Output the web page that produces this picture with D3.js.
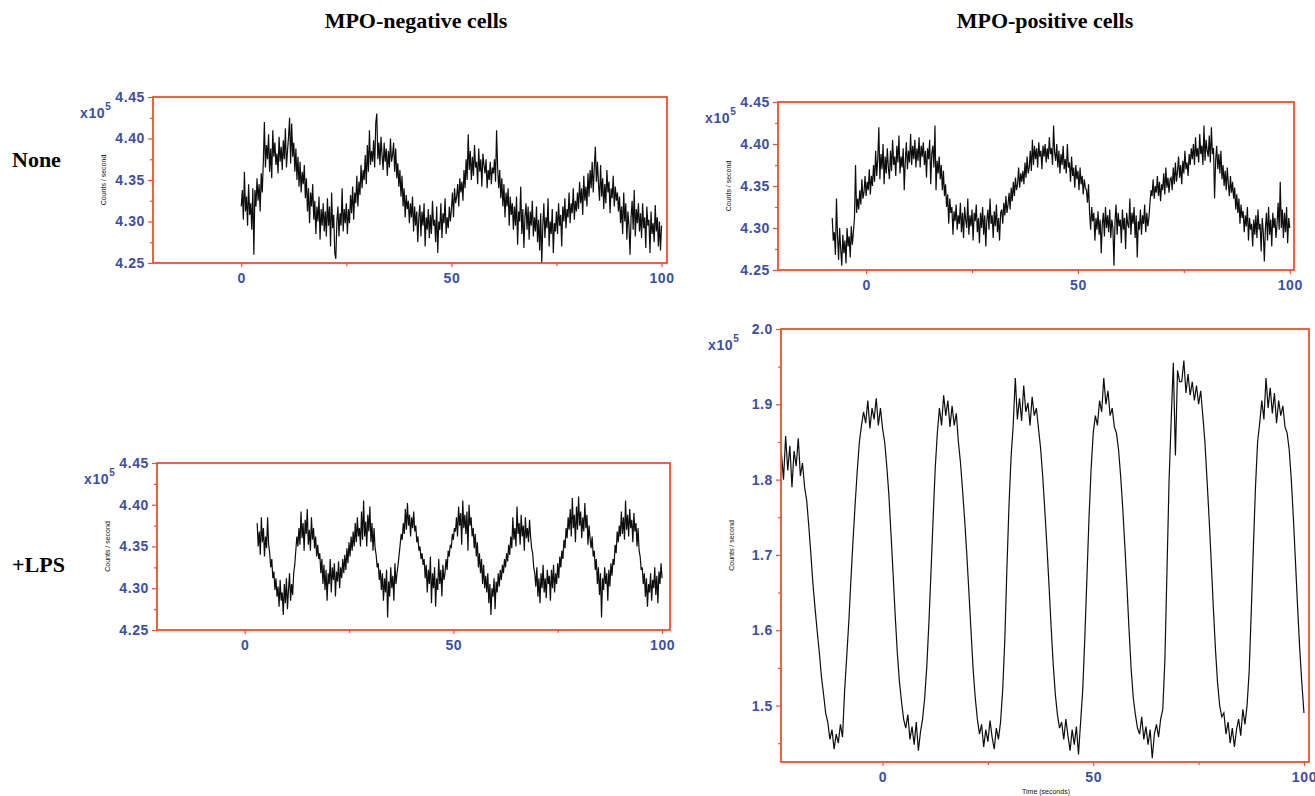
<!DOCTYPE html>
<html lang="en">
<head>
    <meta charset="UTF-8">
    <title>MPO oscillations</title>
    <script src="https://d3js.org/d3.v7.min.js"></script>
    <style>
        body { margin: 0; background: #fff; }
        .tick-label { font: bold 14px Arial, "Liberation Sans", sans-serif; fill: #3c4ea5; letter-spacing: 0.6px; }
        .head { font: bold 22px "Liberation Serif", "Times New Roman", serif; fill: #000; }
        .tiny { font: 7px Arial, "Liberation Sans", sans-serif; fill: #111; }
        .trace { fill: none; stroke: #0d0d0d; stroke-width: 1.2; }
    </style>
</head>
<body>
<svg width="1315" height="796"></svg>
<script>
// MPO-negative, no treatment (x10^5 counts/s), sampled every 0.25 s from t = 0
const negNoneStart = 0, negNoneStep = 0.25;
const negNoneValues = [
4.318,4.338,4.302,4.360,4.312,4.330,4.295,4.345,4.308,4.322,4.290,4.340,4.260,4.338,4.318,4.352,4.325,4.345,4.312,4.358,
4.335,4.372,4.420,4.365,4.392,4.375,4.405,4.360,4.388,4.352,4.410,4.378,4.395,4.368,4.382,4.358,4.402,4.372,4.390,4.362,
4.398,4.375,4.412,4.365,4.385,4.402,4.425,4.370,4.418,4.378,4.395,4.360,4.388,4.350,4.378,4.342,4.372,4.335,4.360,4.345,
4.368,4.328,4.352,4.312,4.340,4.298,4.335,4.318,4.345,4.302,4.325,4.285,4.318,4.300,4.330,4.278,4.315,4.295,4.322,4.288,
4.312,4.282,4.328,4.295,4.318,4.270,4.335,4.292,4.308,4.262,4.255,4.300,4.318,4.282,4.310,4.295,4.340,4.288,4.315,4.298,
4.322,4.285,4.315,4.298,4.332,4.310,4.342,4.302,4.335,4.322,4.355,4.318,4.348,4.332,4.368,4.340,4.362,4.350,4.380,4.345,
4.392,4.360,4.410,4.368,4.385,4.372,4.398,4.365,4.418,4.430,4.375,4.395,4.368,4.402,4.380,4.362,4.395,4.372,4.388,4.355,
4.385,4.365,4.400,4.372,4.380,4.395,4.360,4.388,4.352,4.370,4.342,4.362,4.330,4.355,4.318,4.340,4.305,4.332,4.315,4.325,
4.298,4.322,4.305,4.330,4.288,4.318,4.295,4.312,4.275,4.305,4.320,4.282,4.312,4.295,4.322,4.270,4.305,4.290,4.315,4.280,
4.308,4.285,4.325,4.295,4.302,4.275,4.318,4.262,4.300,4.290,4.322,4.280,4.310,4.298,4.328,4.285,4.305,4.292,4.318,4.300,
4.315,4.335,4.305,4.340,4.322,4.330,4.345,4.318,4.352,4.335,4.348,4.325,4.362,4.340,4.375,4.350,4.405,4.362,4.385,4.350,
4.378,4.355,4.392,4.365,4.372,4.345,4.388,4.360,4.375,4.342,4.382,4.368,4.358,4.375,4.340,4.362,4.350,4.372,4.345,4.365,
4.358,4.375,4.348,4.410,4.365,4.340,4.362,4.328,4.352,4.318,4.345,4.305,4.335,4.318,4.340,4.295,4.330,4.308,4.322,4.290,
4.318,4.295,4.330,4.272,4.312,4.300,4.342,4.285,4.315,4.268,4.305,4.322,4.290,4.318,4.278,4.312,4.295,4.325,4.282,4.305,
4.288,4.318,4.275,4.302,4.265,4.310,4.250,4.295,4.322,4.280,4.305,4.292,4.328,4.270,4.300,4.285,4.315,4.262,4.298,4.288,
4.312,4.285,4.322,4.295,4.308,4.270,4.318,4.300,4.328,4.292,4.315,4.305,4.335,4.298,4.322,4.310,4.340,4.302,4.325,4.312,
4.335,4.315,4.348,4.322,4.340,4.308,4.355,4.325,4.342,4.318,4.358,4.330,4.362,4.340,4.372,4.335,4.365,4.390,4.348,4.372,
4.345,4.325,4.368,4.330,4.352,4.315,4.345,4.322,4.362,4.335,4.348,4.310,4.340,4.328,4.355,4.318,4.342,4.325,4.335,4.312,
4.330,4.298,4.318,4.285,4.335,4.300,4.322,4.278,4.312,4.295,4.260,4.305,4.325,4.290,4.338,4.282,4.315,4.298,4.322,4.288,
4.310,4.280,4.322,4.292,4.305,4.268,4.318,4.295,4.302,4.262,4.312,4.285,4.298,4.275,4.320,4.288,4.305,4.270,4.300,4.265,
4.295
];

// MPO-positive, no treatment, every 0.25 s from t = -8
const posNoneStart = -8, posNoneStep = 0.25;
const posNoneValues = [
4.312,4.285,4.295,4.268,4.335,4.290,4.262,4.300,4.275,4.255,4.292,4.270,4.285,4.258,4.300,4.278,4.290,4.265,4.302,4.280,
4.295,4.312,4.375,4.318,4.335,4.322,4.345,4.328,4.358,4.335,4.342,4.362,4.338,4.355,4.345,4.370,4.340,4.362,4.350,4.375,
4.355,4.392,4.362,4.382,4.420,4.358,4.388,4.370,4.400,4.352,4.385,4.365,4.395,4.372,4.358,4.392,4.368,4.405,4.375,4.385,
4.362,4.398,4.378,4.410,4.365,4.385,4.372,4.395,4.345,4.380,4.402,4.370,4.392,4.378,4.412,4.375,4.398,4.382,4.405,4.372,
4.395,4.380,4.408,4.372,4.398,4.385,4.402,4.375,4.392,4.360,4.395,4.382,4.405,4.352,4.388,4.398,4.372,4.422,4.345,4.380,
4.365,4.385,4.358,4.375,4.345,4.368,4.338,4.352,4.325,4.340,4.305,4.335,4.318,4.325,4.292,4.320,4.308,4.328,4.298,4.315,
4.305,4.330,4.295,4.318,4.288,4.325,4.310,4.300,4.335,4.292,4.315,4.302,4.322,4.285,4.318,4.308,4.328,4.295,4.312,4.282,
4.318,4.300,4.325,4.292,4.315,4.278,4.310,4.322,4.298,4.335,4.305,4.315,4.288,4.320,4.302,4.328,4.295,4.312,4.285,4.318,
4.322,4.305,4.330,4.315,4.338,4.318,4.328,4.342,4.322,4.348,4.332,4.355,4.338,4.360,4.345,4.352,4.372,4.348,4.365,4.355,
4.368,4.352,4.378,4.360,4.385,4.365,4.372,4.392,4.368,4.405,4.375,4.398,4.382,4.395,4.372,4.402,4.385,4.392,4.370,4.398,
4.385,4.400,4.378,4.395,4.382,4.408,4.388,4.395,4.375,4.422,4.390,4.380,4.400,4.372,4.392,4.365,4.388,4.375,4.398,4.370,
4.382,4.365,4.400,4.372,4.378,4.355,4.385,4.362,4.372,4.348,4.375,4.358,4.368,4.345,4.372,4.352,4.362,4.340,4.358,4.348,
4.345,4.330,4.352,4.318,4.298,4.325,4.308,4.318,4.285,4.312,4.298,4.320,4.292,4.310,4.270,4.305,4.318,4.290,4.325,4.300,
4.315,4.295,4.322,4.288,4.310,4.300,4.255,4.308,4.328,4.292,4.318,4.302,4.310,4.282,4.322,4.298,4.312,4.275,4.318,4.305,
4.300,4.335,4.292,4.318,4.305,4.325,4.288,4.315,4.265,4.308,4.298,4.322,4.292,4.315,4.305,4.328,4.295,4.318,4.302,4.312,
4.330,4.345,4.338,4.358,4.335,4.350,4.342,4.362,4.338,4.355,4.332,4.352,4.345,4.365,4.340,4.372,4.348,4.360,4.342,4.358,
4.360,4.345,4.372,4.352,4.378,4.355,4.368,4.385,4.360,4.375,4.352,4.380,4.365,4.392,4.370,4.378,4.362,4.388,4.375,4.395,
4.382,4.400,4.375,4.408,4.385,4.395,4.378,4.412,4.388,4.398,4.375,4.422,4.380,4.405,4.392,4.385,4.410,4.378,4.420,4.388,
4.395,4.335,4.380,4.398,4.370,4.388,4.365,4.392,4.358,4.375,4.350,4.368,4.345,4.372,4.352,4.338,4.362,4.342,4.355,4.335,
4.348,4.322,4.340,4.318,4.335,4.305,4.328,4.312,4.320,4.295,4.315,4.302,4.325,4.285,4.312,4.298,4.305,4.278,4.310,4.292,
4.315,4.288,4.322,4.298,4.305,4.272,4.312,4.295,4.260,4.300,4.318,4.285,4.325,4.292,4.310,4.278,4.318,4.300,4.312,4.288,
4.305,4.330,4.298,4.355,4.300,4.322,4.288,4.318,4.295,4.325,4.282,4.312,4.300
];

// MPO-negative, +LPS, every 0.25 s from t = 3
const negLpsStart = 3, negLpsStep = 0.25;
const negLpsValues = [
4.378,4.350,4.368,4.340,4.385,4.355,4.372,4.338,4.362,4.348,4.385,4.352,4.342,4.325,4.335,4.312,4.320,4.298,4.312,4.290,
4.302,4.278,4.310,4.285,4.295,4.268,4.305,4.282,4.312,4.275,4.298,4.318,4.285,4.305,4.292,4.318,4.328,4.345,4.362,4.350,
4.372,4.352,4.392,4.360,4.378,4.345,4.382,4.365,4.395,4.352,4.370,4.345,4.385,4.358,4.372,4.348,4.362,4.338,4.352,4.335,
4.342,4.318,4.335,4.305,4.328,4.298,4.322,4.285,4.318,4.305,4.335,4.295,4.325,4.310,4.330,4.290,4.320,4.308,4.332,4.300,
4.325,4.312,4.335,4.318,4.340,4.322,4.348,4.330,4.355,4.338,4.362,4.345,4.368,4.350,4.378,4.355,4.385,4.362,4.372,4.350,
4.392,4.358,4.405,4.362,4.380,4.350,4.388,4.368,4.398,4.355,4.378,4.345,4.372,4.348,4.340,4.325,4.330,4.310,4.322,4.298,
4.318,4.285,4.312,4.295,4.322,4.265,4.308,4.290,4.325,4.300,4.315,4.285,4.330,4.305,4.318,4.328,4.340,4.352,4.365,4.358,
4.378,4.365,4.395,4.370,4.402,4.375,4.388,4.362,4.385,4.372,4.392,4.368,4.375,4.355,4.362,4.345,4.350,4.335,4.342,4.328,
4.335,4.312,4.328,4.295,4.322,4.305,4.338,4.282,4.318,4.300,4.325,4.278,4.312,4.298,4.335,4.305,4.322,4.290,4.328,4.310,
4.318,4.335,4.322,4.345,4.338,4.352,4.348,4.365,4.358,4.372,4.368,4.385,4.362,4.398,4.375,4.390,4.352,4.405,4.372,4.388,
4.365,4.392,4.345,4.400,4.375,4.385,4.362,4.372,4.348,4.365,4.338,4.355,4.325,4.342,4.318,4.335,4.305,4.328,4.300,4.315,
4.295,4.318,4.282,4.305,4.268,4.300,4.290,4.312,4.275,4.308,4.295,4.318,4.302,4.322,4.310,4.328,4.318,4.335,4.325,4.342,
4.332,4.352,4.340,4.362,4.348,4.385,4.358,4.372,4.350,4.398,4.365,4.378,4.352,4.388,4.362,4.375,4.345,4.385,4.360,4.372,
4.355,4.382,4.362,4.348,4.342,4.325,4.318,4.302,4.325,4.290,4.312,4.282,4.318,4.300,4.328,4.295,4.312,4.288,4.322,4.305,
4.315,4.285,4.322,4.300,4.328,4.295,4.318,4.305,4.330,4.312,4.338,4.325,4.345,4.335,4.358,4.348,4.372,4.360,4.385,4.370,
4.395,4.362,4.408,4.372,4.388,4.355,4.398,4.370,4.410,4.375,4.392,4.360,4.385,4.368,4.402,4.372,4.388,4.352,4.375,4.360,
4.348,4.362,4.338,4.345,4.322,4.335,4.305,4.325,4.292,4.318,4.265,4.312,4.298,4.325,4.305,4.318,4.285,4.322,4.302,4.330,
4.315,4.335,4.328,4.352,4.342,4.368,4.355,4.375,4.362,4.392,4.365,4.385,4.358,4.405,4.370,4.388,4.362,4.395,4.372,4.382,
4.355,4.390,4.368,4.378,4.350,4.372,4.345,4.338,4.322,4.325,4.305,4.318,4.290,4.312,4.278,4.305,4.295,4.318,4.285,4.310,
4.300,4.325,4.292,4.315,4.282,4.320,4.305,4.330,4.312
];

// MPO-positive, +LPS, every 0.5 s from t = -24
const posLpsStart = -24, posLpsStep = 0.5;
const posLpsValues = [
1.835,1.800,1.858,1.812,1.845,1.790,1.838,1.818,1.855,1.805,
1.822,1.790,1.772,1.738,1.700,1.660,1.628,1.598,1.570,1.538,
1.515,1.490,1.478,1.455,1.468,1.442,1.462,1.450,1.475,1.458,
1.520,1.565,1.612,1.668,1.720,1.768,1.812,1.850,1.872,1.890,
1.875,1.905,1.868,1.895,1.880,1.908,1.872,1.895,1.868,1.850,
1.818,1.780,1.728,1.675,1.620,1.570,1.532,1.505,1.482,1.470,
1.488,1.455,1.472,1.448,1.478,1.440,1.465,1.482,1.510,1.552,
1.610,1.678,1.748,1.815,1.862,1.895,1.872,1.912,1.885,1.905,
1.870,1.898,1.872,1.888,1.850,1.822,1.785,1.745,1.700,1.650,
1.598,1.548,1.510,1.482,1.462,1.475,1.445,1.468,1.452,1.480,
1.458,1.442,1.470,1.455,1.478,1.520,1.585,1.680,1.765,1.830,
1.872,1.935,1.880,1.908,1.878,1.925,1.890,1.902,1.872,1.910,
1.885,1.895,1.868,1.842,1.805,1.760,1.712,1.660,1.605,1.555,
1.515,1.488,1.470,1.478,1.455,1.482,1.460,1.440,1.468,1.448,
1.472,1.435,1.478,1.520,1.590,1.670,1.750,1.815,1.862,1.885,
1.872,1.905,1.890,1.935,1.900,1.918,1.885,1.895,1.870,1.862,
1.840,1.805,1.762,1.712,1.658,1.600,1.548,1.510,1.488,1.470,
1.462,1.485,1.455,1.472,1.448,1.468,1.430,1.462,1.475,1.458,
1.482,1.495,1.560,1.680,1.800,1.880,1.955,1.832,1.945,1.930,
1.930,1.958,1.915,1.940,1.912,1.930,1.905,1.925,1.900,1.918,
1.885,1.850,1.800,1.748,1.690,1.630,1.575,1.530,1.500,1.485,
1.490,1.462,1.478,1.450,1.470,1.445,1.468,1.482,1.460,1.495,
1.475,1.500,1.545,1.625,1.710,1.790,1.850,1.875,1.905,1.880,
1.935,1.895,1.922,1.888,1.915,1.875,1.905,1.885,1.898,1.870,
1.862,1.840,1.800,1.748,1.690,1.630,1.575,1.530,1.490
];

const columnTitles = ["MPO-negative cells", "MPO-positive cells"];
const rowLabels = ["None", "+LPS"];
const xMajorTicks = [0, 50, 100];
const xMinorTicks = [25, 75];
const smallYTicks = [4.25, 4.30, 4.35, 4.40, 4.45];
const smallYMinor = [4.275, 4.325, 4.375, 4.425];
const bigYTicks = [1.5, 1.6, 1.7, 1.8, 1.9, 2.0];
const bigYMinor = [1.45, 1.55, 1.65, 1.75, 1.85, 1.95];

const frameColor = "#ef4f2f";
const blue = "#3c4ea5";

const svg = d3.select("svg");

const panels = [
    {id: "p1", start: negNoneStart, step: negNoneStep, values: negNoneValues, box: [153, 667, 97, 263],
     xDomain: [-21, 101.3], yDomain: [4.25, 4.45], yTicks: smallYTicks, yMinor: smallYMinor, fmt: ".2f"},
    {id: "p2", start: posNoneStart, step: posNoneStep, values: posNoneValues, box: [778, 1294, 102, 270],
     xDomain: [-20.8, 101], yDomain: [4.25, 4.45], yTicks: smallYTicks, yMinor: smallYMinor, fmt: ".2f"},
    {id: "p3", start: negLpsStart, step: negLpsStep, values: negLpsValues, box: [157, 670, 463, 630],
     xDomain: [-21, 101.9], yDomain: [4.25, 4.45], yTicks: smallYTicks, yMinor: smallYMinor, fmt: ".2f"},
    {id: "p4", start: posLpsStart, step: posLpsStep, values: posLpsValues, box: [781, 1309, 329, 762],
     xDomain: [-24.1, 101.2], yDomain: [1.425, 2.0], yTicks: bigYTicks, yMinor: bigYMinor, fmt: ".1f", timeLabel: true}
];

panels.forEach(drawPanel);

function drawPanel(p) {
    const [x0, x1, y0, y1] = p.box;
    const x = d3.scaleLinear().domain(p.xDomain).range([x0, x1]);
    const y = d3.scaleLinear().domain(p.yDomain).range([y1, y0]);
    const g = svg.append("g");

    g.append("clipPath").attr("id", "clip-" + p.id)
        .append("rect").attr("x", x0).attr("y", y0).attr("width", x1 - x0).attr("height", y1 - y0);

    const line = d3.line()
        .x((d, i) => x(p.start + i * p.step))
        .y(d => y(d));
    g.append("path")
        .attr("class", "trace")
        .attr("clip-path", "url(#clip-" + p.id + ")")
        .attr("d", line(p.values));

    // y axis, major and minor ticks
    const yAxis = d3.axisLeft(y).tickValues(p.yTicks).tickFormat(d3.format(p.fmt)).tickSize(5).tickPadding(3);
    const ya = g.append("g").attr("transform", `translate(${x0},0)`).call(yAxis);
    const ym = g.append("g").attr("transform", `translate(${x0},0)`)
        .call(d3.axisLeft(y).tickValues(p.yMinor).tickFormat("").tickSize(3));

    // x axis
    const xAxis = d3.axisBottom(x).tickValues(xMajorTicks).tickFormat(d3.format("d")).tickSize(4).tickPadding(4);
    const xa = g.append("g").attr("transform", `translate(0,${y1})`).call(xAxis);
    const xm = g.append("g").attr("transform", `translate(0,${y1})`)
        .call(d3.axisBottom(x).tickValues(xMinorTicks).tickFormat("").tickSize(3));

    [ya, ym, xa, xm].forEach(a => {
        a.select(".domain").remove();
        a.selectAll(".tick line").attr("stroke", frameColor).attr("stroke-width", 1.2);
        a.selectAll("text").attr("class", "tick-label").attr("fill", blue);
    });
    xa.selectAll("text").attr("dy", "0.85em");

    // frame
    g.append("rect")
        .attr("x", x0).attr("y", y0).attr("width", x1 - x0).attr("height", y1 - y0)
        .attr("fill", "none").attr("stroke", frameColor).attr("stroke-width", 1.8);

    // x10^5 multiplier
    const mult = g.append("text").attr("class", "tick-label")
        .attr("x", x0 - 73).attr("y", y0 + 21);
    mult.append("tspan").text("x10");
    mult.append("tspan").attr("dy", -8).style("font-size", "10px").text("5");

    // y axis title
    g.append("text").attr("class", "tiny")
        .attr("transform", `translate(${x0 - 47},${(y0 + y1) / 2}) rotate(-90)`)
        .attr("text-anchor", "middle")
        .text("Counts / second");

    if (p.timeLabel) {
        g.append("text").attr("class", "tiny")
            .attr("x", (x0 + x1) / 2 + 1).attr("y", 794)
            .attr("text-anchor", "middle")
            .text("Time (seconds)");
    }
}

// column and row headings
svg.selectAll(".col-title").data(columnTitles).enter().append("text")
    .attr("class", "head")
    .attr("x", (d, i) => i === 0 ? 416 : 1045)
    .attr("y", 28)
    .attr("text-anchor", "middle")
    .text(d => d);

svg.selectAll(".row-title").data(rowLabels).enter().append("text")
    .attr("class", "head")
    .attr("x", 12)
    .attr("y", (d, i) => i === 0 ? 167 : 572)
    .text(d => d);
</script>
</body>
</html>
